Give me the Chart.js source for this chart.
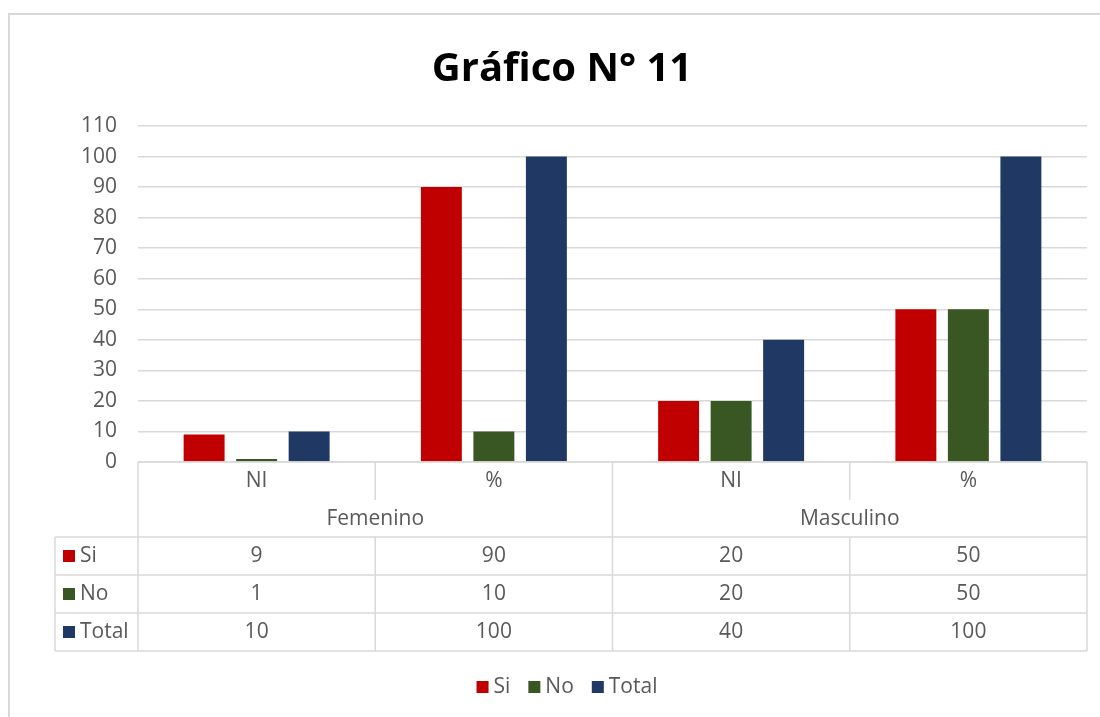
<!DOCTYPE html>
<html>
<head>
<meta charset="utf-8">
<script src="https://cdn.jsdelivr.net/npm/chart.js@4.4.1/dist/chart.umd.min.js"></script>
<style>
  html, body { margin: 0; padding: 0; background: #ffffff; }
  #wrap { width: 1100px; height: 717px; position: relative; }
</style>
</head>
<body>
<div id="wrap"><canvas id="c" width="1100" height="717"></canvas></div>
<script>
const TITLE = 'Gráfico N° 11';
const categories = ['NI', '%', 'NI', '%'];
const groups = ['Femenino', 'Masculino'];
const seriesNames = ['Si', 'No', 'Total'];
const siValues = [9, 90, 20, 50];
const noValues = [1, 10, 20, 50];
const totalValues = [10, 100, 40, 100];
const yTicks = [0, 10, 20, 30, 40, 50, 60, 70, 80, 90, 100, 110];

const COLORS = ['#C00000', '#385723', '#203864'];
const TEXT = '#595959';
const GRID = '#d9d9d9';
const FONT = "'Open Sans', 'DejaVu Sans', sans-serif";
const FS = 21;

const frame = {
  id: 'frame',
  beforeDraw(chart) {
    const ctx = chart.ctx;
    ctx.save();
    ctx.fillStyle = '#ffffff';
    ctx.fillRect(0, 0, chart.width, chart.height);
    ctx.strokeStyle = GRID;
    ctx.lineWidth = 2;
    ctx.beginPath();
    ctx.moveTo(9, chart.height);
    ctx.lineTo(9, 14);
    ctx.lineTo(chart.width, 14);
    ctx.stroke();
    // title
    ctx.fillStyle = '#000000';
    ctx.font = "bold 40px " + FONT;
    ctx.textAlign = 'center';
    ctx.textBaseline = 'alphabetic';
    ctx.fillText(TITLE, 562, 81);
    ctx.restore();
  }
};

const dataTable = {
  id: 'dataTable',
  afterDraw(chart) {
    const ctx = chart.ctx;
    const area = chart.chartArea;
    const x = chart.scales.x;
    const n = categories.length;
    const w = (area.right - area.left) / n;
    const top = area.bottom;
    const rowSub = top + 38;
    const rowGrp = top + 75;
    const rowH = 38;
    const tableLeft = 55;
    const bottom = rowGrp + rowH * seriesNames.length;
    ctx.save();
    ctx.strokeStyle = GRID;
    ctx.lineWidth = 1.5;
    ctx.beginPath();
    ctx.moveTo(area.left, top); ctx.lineTo(area.right, top);
    for (let r = 0; r <= seriesNames.length; r++) {
      const y = rowGrp + r * rowH;
      ctx.moveTo(tableLeft, y); ctx.lineTo(area.right, y);
    }
    for (let i = 0; i <= n; i++) {
      const xx = area.left + i * w;
      if (i === 0 || i === n || i === n / 2) {
        ctx.moveTo(xx, top); ctx.lineTo(xx, bottom);
      } else {
        ctx.moveTo(xx, top); ctx.lineTo(xx, rowSub);
        ctx.moveTo(xx, rowGrp); ctx.lineTo(xx, bottom);
      }
    }
    ctx.moveTo(tableLeft, rowGrp); ctx.lineTo(tableLeft, bottom);
    ctx.stroke();

    ctx.fillStyle = TEXT;
    ctx.font = FS + "px " + FONT;
    ctx.textAlign = 'center';
    ctx.textBaseline = 'middle';
    for (let i = 0; i < n; i++) {
      ctx.fillText(categories[i], x.getPixelForValue(i), top + 19);
    }
    const per = n / groups.length;
    for (let g = 0; g < groups.length; g++) {
      const cx = area.left + (g * per + per / 2) * w;
      ctx.fillText(groups[g], cx, top + 57);
    }
    chart.data.datasets.forEach((ds, r) => {
      const cy = rowGrp + r * rowH + rowH / 2;
      ds.data.forEach((v, i) => {
        ctx.fillStyle = TEXT;
        ctx.textAlign = 'center';
        ctx.fillText(String(v), x.getPixelForValue(i), cy);
      });
      ctx.fillStyle = ds.backgroundColor;
      ctx.fillRect(63, cy - 6, 12, 12);
      ctx.fillStyle = TEXT;
      ctx.textAlign = 'left';
      ctx.fillText(ds.label, 80, cy);
    });

    // legend
    const ly = 687;
    const gapText = 5, gapItem = 18, box = 12;
    const items = chart.data.datasets.map(ds => ({ label: ds.label, color: ds.backgroundColor, tw: ctx.measureText(ds.label).width }));
    let total = 0;
    items.forEach((it, i) => { total += box + gapText + it.tw + (i ? gapItem : 0); });
    let lx = 567 - total / 2;
    items.forEach((it) => {
      ctx.fillStyle = it.color;
      ctx.fillRect(lx, ly - 6, box, box);
      ctx.fillStyle = TEXT;
      ctx.textAlign = 'left';
      ctx.fillText(it.label, lx + box + gapText, ly);
      lx += box + gapText + it.tw + gapItem;
    });
    ctx.restore();
  }
};

new Chart(document.getElementById('c'), {
  type: 'bar',
  data: {
    labels: categories,
    datasets: [
      { label: seriesNames[0], data: siValues, backgroundColor: COLORS[0] },
      { label: seriesNames[1], data: noValues, backgroundColor: COLORS[1] },
      { label: seriesNames[2], data: totalValues, backgroundColor: COLORS[2] }
    ]
  },
  options: {
    responsive: false,
    animation: false,
    layout: { padding: { left: 0, right: 13, top: 126, bottom: 49 } },
    datasets: { bar: { categoryPercentage: 0.664, barPercentage: 0.78 } },
    plugins: {
      title: { display: false },
      legend: { display: false },
      tooltip: { enabled: false }
    },
    scales: {
      x: {
        display: true,
        ticks: { display: false },
        grid: { display: false },
        border: { display: false },
        afterFit(s) { s.height = 206; }
      },
      y: {
        min: 0,
        max: 110,
        afterBuildTicks(s) { s.ticks = yTicks.map(v => ({ value: v })); },
        ticks: { color: TEXT, font: { family: FONT, size: FS }, padding: 21 },
        grid: { color: GRID, lineWidth: 1.5, drawTicks: false },
        border: { display: false },
        afterFit(s) { s.width = 138; }
      }
    }
  },
  plugins: [frame, dataTable]
});
</script>
</body>
</html>
